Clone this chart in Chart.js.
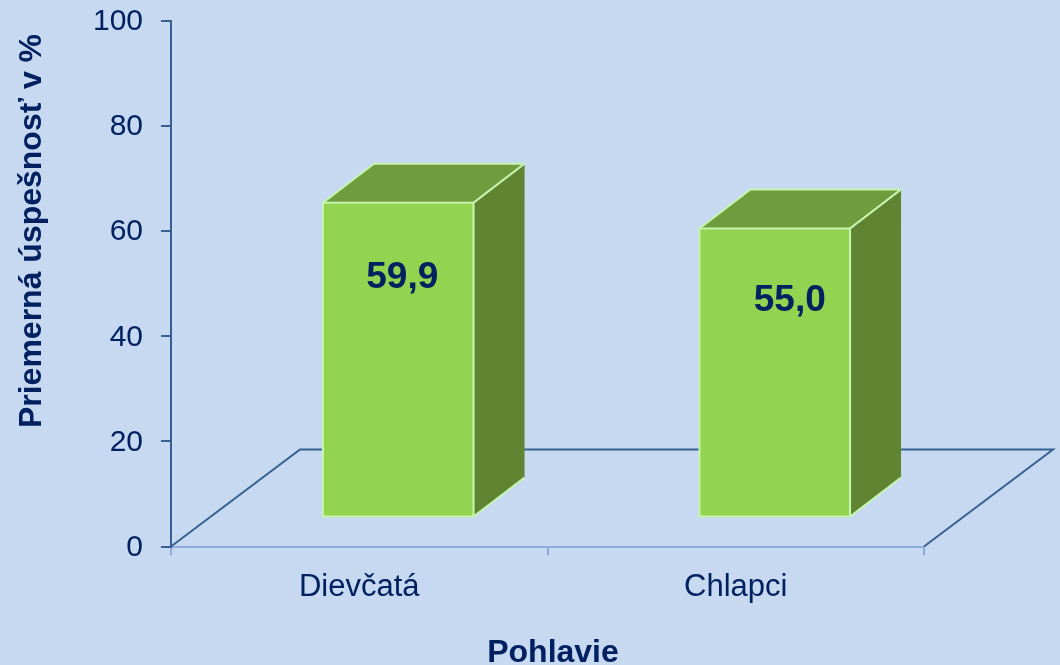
<!DOCTYPE html>
<html>
<head>
<meta charset="utf-8">
<title>Priemerná úspešnosť</title>
<script src="https://cdn.jsdelivr.net/npm/chart.js@4"></script>
<style>
  html, body { margin: 0; padding: 0; background: #c6d9f1; }
  canvas { display: block; }
</style>
</head>
<body>
<canvas id="myChart" width="1060" height="665"></canvas>
<script>
var categories = ["Dievčatá", "Chlapci"]
var values = [59.9, 55.0]
var valueLabels = ["59,9", "55,0"]
var yTicks = [0, 20, 40, 60, 80, 100]
var xTitle = "Pohlavie"
var yTitle = "Priemerná úspešnosť v %"

var fontName = "'Liberation Sans', Arial, sans-serif"
var textColor = "#002060"
var edgeColor = "#c6f5b0"

// the fake 3d look: how far the box front sits from the axes and how deep it is
var boxShift = { x: 39, y: -29 }
var boxDepth = { x: 51, y: -39 }
var floorDepth = { x: 129, y: -97 }
// value labels are not centered the same way on both bars
var labelOffset = [{ x: 4, y: 75 }, { x: 15, y: 72 }]

function polygon(ctx, pts, fill, edges) {
  ctx.beginPath()
  ctx.moveTo(pts[0][0], pts[0][1])
  for (var i = 1; i < pts.length; i++) {
    ctx.lineTo(pts[i][0], pts[i][1])
  }
  ctx.closePath()
  ctx.fillStyle = fill
  ctx.fill()
  ctx.strokeStyle = edgeColor
  ctx.lineWidth = 2
  edges.forEach(function(e) {
    ctx.beginPath()
    ctx.moveTo(pts[e[0]][0], pts[e[0]][1])
    ctx.lineTo(pts[e[1]][0], pts[e[1]][1])
    ctx.stroke()
  })
}

var box3d = {
  id: "box3d",
  beforeDatasetsDraw: function(chart) {
    var ctx = chart.ctx
    var a = chart.chartArea
    ctx.save()
    ctx.strokeStyle = "#376092"
    ctx.lineWidth = 2
    ctx.beginPath()
    ctx.moveTo(a.left, a.bottom)
    ctx.lineTo(a.left + floorDepth.x, a.bottom + floorDepth.y)
    ctx.lineTo(a.right + floorDepth.x, a.bottom + floorDepth.y)
    ctx.lineTo(a.right, a.bottom)
    ctx.stroke()
    ctx.restore()
  },
  beforeDatasetDraw: function(chart, args) {
    var ctx = chart.ctx
    ctx.save()
    ctx.translate(boxShift.x, boxShift.y)
    args.meta.data.forEach(function(bar) {
      var p = bar.getProps(["x", "y", "base", "width"], true)
      var l = p.x - p.width / 2
      var r = p.x + p.width / 2
      var dx = boxDepth.x
      var dy = boxDepth.y
      polygon(ctx, [[l, p.y], [l + dx, p.y + dy], [r + dx, p.y + dy], [r, p.y]], "#6f9c3d", [[0, 1], [1, 2], [2, 3]])
      polygon(ctx, [[r, p.y], [r + dx, p.y + dy], [r + dx, p.base + dy], [r, p.base]], "#5f8532", [[0, 1], [2, 3]])
    })
  },
  afterDatasetDraw: function(chart, args) {
    var ctx = chart.ctx
    // front outline sits on the bar edge, the library border would be inset
    ctx.strokeStyle = edgeColor
    ctx.lineWidth = 2
    args.meta.data.forEach(function(bar) {
      var p = bar.getProps(["x", "y", "base", "width"], true)
      ctx.strokeRect(p.x - p.width / 2, p.y, p.width, p.base - p.y)
    })
    ctx.restore()
  },
  afterDatasetsDraw: function(chart) {
    var ctx = chart.ctx
    ctx.save()
    ctx.fillStyle = textColor
    ctx.textAlign = "center"
    ctx.textBaseline = "middle"

    ctx.font = "bold 37px " + fontName
    chart.getDatasetMeta(0).data.forEach(function(bar, i) {
      var x = bar.x + boxShift.x + labelOffset[i].x
      var y = bar.y + boxShift.y + labelOffset[i].y
      ctx.fillText(valueLabels[i], x, y)
    })

    // axis titles sit off center in the original, so they are placed by hand
    ctx.font = "bold 32px " + fontName
    ctx.fillText(xTitle, 553, 653)
    ctx.translate(32, 231)
    ctx.rotate(-Math.PI / 2)
    ctx.fillText(yTitle, 0, 0)
    ctx.restore()
  }
}

var ctx = document.getElementById("myChart").getContext("2d")
var chart = new Chart(ctx, {
  type: "bar",
  data: {
    labels: categories,
    datasets: [{
      data: values,
      backgroundColor: "#92d350",
      borderWidth: 0,
      barPercentage: 0.4,
      categoryPercentage: 1,
      clip: false
    }]
  },
  options: {
    responsive: false,
    animation: false,
    layout: { padding: { top: 21, right: 136, left: 0, bottom: 0 } },
    plugins: { legend: { display: false }, tooltip: { enabled: false } },
    scales: {
      x: {
        afterFit: function(scale) {
          scale.height = 118.5
          scale.paddingLeft = 0
          scale.paddingRight = 0
        },
        border: { color: "#8faadc", width: 2 },
        grid: { drawOnChartArea: false, color: "#8faadc", lineWidth: 2, tickLength: 9 },
        ticks: { color: textColor, font: { family: fontName, size: 31 }, padding: 13, maxRotation: 0 }
      },
      y: {
        min: 0,
        max: 100,
        afterFit: function(scale) {
          scale.width = 171
          scale.paddingTop = 0
          scale.paddingBottom = 0
        },
        afterBuildTicks: function(scale) {
          scale.ticks = yTicks.map(function(v) { return { value: v } })
        },
        border: { color: "#376092", width: 2 },
        grid: { drawOnChartArea: false, color: "#376092", lineWidth: 2, tickLength: 10 },
        ticks: { color: textColor, font: { family: fontName, size: 30 }, padding: 18, labelOffset: 1 }
      }
    }
  },
  plugins: [box3d]
})
</script>
</body>
</html>
